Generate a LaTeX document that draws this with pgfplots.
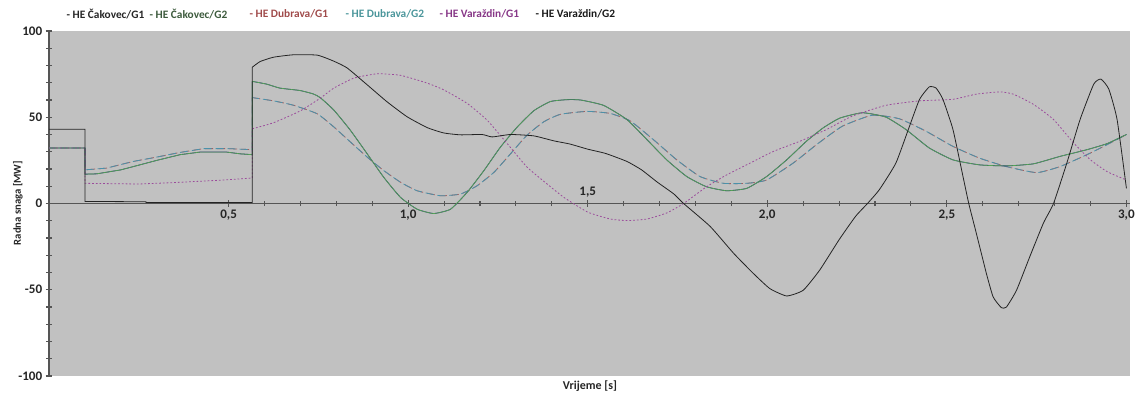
\documentclass[border=0pt]{standalone}
\usepackage{fontspec}
\setmainfont{Carlito}
\usepackage{pgfplots}
\pgfplotsset{compat=1.18}

\definecolor{bggray}{RGB}{193,193,193}
\definecolor{axgray}{RGB}{85,85,85}
\definecolor{cakA}{RGB}{45,55,115}
\definecolor{cakB}{RGB}{85,165,85}
\definecolor{dubA}{RGB}{165,95,95}
\definecolor{dubB}{RGB}{75,145,170}
\definecolor{varA}{RGB}{155,75,155}
\definecolor{varB}{RGB}{35,35,35}
\definecolor{txtB}{RGB}{60,90,60}
\definecolor{txtC}{RGB}{160,75,75}
\definecolor{txtD}{RGB}{75,150,155}
\definecolor{txtE}{RGB}{135,55,135}

% Varazdin/G2: step part, then the swing after 0.566 s
\pgfplotstableread{
t P
0 43
0.1 43
0.1 1.2
0.27 1.0
0.27 0.6
0.566 0.6
0.566 79
}\varBa
\pgfplotstableread{
t P
0.566 79
0.588 82.3
0.625 84.8
0.68 86.2
0.747 86
0.793 82.5
0.83 78.6
0.886 68.8
0.941 59
0.997 50.3
1.053 44
1.099 40.9
1.146 39.8
1.206 40
1.234 38.6
1.285 40
1.35 39.2
1.406 36.3
1.45 34.5
1.5 31.5
1.55 29
1.609 24.4
1.65 19.5
1.693 12.5
1.74 5.5
1.767 0
1.841 -13.3
1.906 -28.8
1.961 -40.5
2.007 -49.3
2.054 -53.6
2.1 -50.3
2.146 -38.6
2.2 -21
2.246 -7.4
2.279 0
2.312 8
2.358 23.4
2.396 44.8
2.424 60.4
2.451 67.6
2.47 66.9
2.489 60.4
2.517 42.9
2.545 15.6
2.561 0
2.582 -17.2
2.61 -40.5
2.629 -54.2
2.652 -60.4
2.666 -60
2.694 -50.3
2.731 -30.8
2.769 -11.3
2.797 0
2.834 23.4
2.871 48.7
2.909 69.2
2.929 72.1
2.951 66.3
2.974 48.7
3.0 8.8
}\varBb

% Cakovec G1/G2
\pgfplotstableread{
t P
0 32.2
0.1 32.2
0.1 17
0.133 17.2
0.2 19.5
0.253 22.4
0.3 25
0.365 28.3
0.42 29.8
0.495 29.8
0.532 28.8
0.566 28.3
0.566 70.8
}\caka
\pgfplotstableread{
t P
0.566 70.8
0.606 69.2
0.643 66.9
0.699 65.5
0.736 63.5
0.755 61.4
0.793 54.2
0.839 42.5
0.886 28.8
0.932 15.2
0.979 3.5
1.025 -3.3
1.071 -5.8
1.118 -3.3
1.164 6.4
1.211 19.1
1.257 32.7
1.304 44.4
1.35 53.8
1.396 59.1
1.443 60.2
1.48 60
1.544 56.9
1.609 48.7
1.665 37
1.72 25.3
1.776 15.6
1.831 9.7
1.887 7.4
1.943 8.8
1.998 15.6
2.054 25.3
2.109 36.1
2.156 43.9
2.202 49.5
2.265 52.6
2.33 50.1
2.386 42.9
2.451 32.2
2.517 25.3
2.591 22.4
2.666 21.8
2.741 23
2.815 27.3
2.89 31.2
2.946 34.7
3.0 40
}\cakb

% Dubrava G1/G2
\pgfplotstableread{
t P
0 32.2
0.1 32.2
0.1 19.5
0.16 20.5
0.235 24.4
0.3 26.9
0.365 29.6
0.43 31.8
0.5 31.8
0.566 31.2
0.566 61.4
}\duba
\pgfplotstableread{
t P
0.566 61.4
0.625 59.5
0.68 57
0.747 52
0.793 44.4
0.839 35.7
0.886 26.9
0.932 19.1
0.979 12.3
1.025 7.4
1.09 4.5
1.146 5.5
1.192 10.3
1.239 18.1
1.285 28.8
1.331 39.6
1.378 47.4
1.424 51.7
1.498 53.4
1.563 52.2
1.619 47.8
1.683 37
1.748 25.3
1.813 15.6
1.878 11.7
1.943 11.7
1.998 13.6
2.072 23.4
2.137 34.1
2.209 44.8
2.293 51.2
2.368 49.1
2.442 41.9
2.517 33.1
2.591 26.3
2.666 21.4
2.75 17.9
2.815 21.4
2.89 28.3
2.946 34.1
3.0 40
}\dubb

% Varazdin/G1
\pgfplotstableread{
t P
0 32.2
0.1 32.2
0.1 11.7
0.25 11.3
0.346 12.1
0.486 13.6
0.566 14.8
0.566 43.3
}\varAa
\pgfplotstableread{
t P
0.566 43.3
0.625 46.8
0.699 53.6
0.755 61
0.793 66.9
0.849 72.7
0.914 75.2
0.979 74.3
1.053 69.8
1.099 65.9
1.164 58.1
1.22 48.3
1.276 34.7
1.331 21.1
1.387 11.3
1.434 3.5
1.5 -5
1.563 -9
1.609 -9.9
1.665 -9
1.72 -5.5
1.767 0
1.831 9.7
1.887 16.6
1.952 23.4
2.017 30.2
2.091 36.1
2.165 42.9
2.237 50.7
2.33 56.9
2.424 59.5
2.517 60.4
2.582 63.4
2.647 64.7
2.685 63.4
2.741 57.5
2.797 48.7
2.853 35.1
2.9 25.3
2.946 18.5
3.0 13.6
}\varAb

\begin{document}
\begin{tikzpicture}
\useasboundingbox (-36.75pt,-15.75pt) rectangle (816.75pt,282pt);
\begin{axis}[
    at={(0pt,0pt)}, anchor=south west,
    scale only axis,
    width=810.75pt, height=258.75pt,
    xmin=0, xmax=3.01,
    ymin=-100, ymax=100,
    axis x line=middle, axis y line=left,
    axis line style={-},
    x axis line style={axgray, line width=1.4pt},
    y axis line style={axgray, line width=0.8pt},
    axis background/.style={fill=bggray},
    xtick={0.5,1,1.5,2,2.5,3},
    xticklabels={{0,5},{1,0},{},{2,0},{2,5},{3,0}},
    minor x tick num=4,
    ytick={-100,-50,0,50,100},
    yticklabels={-100,-50,0,50,100},
    minor y tick num=4,
    tick align=center,
    major tick length=5pt, minor tick length=4pt,
    tick style={axgray, line width=0.8pt},
    ticklabel style={font=\bfseries\fontsize{9.8}{11}\selectfont, text=black!85},
    xticklabel style={yshift=1pt},
    yticklabel style={xshift=1pt},
    line width=0.6pt,
    clip=false,
]
% Dubrava
\addplot[dubA, dash pattern=on 6pt off 3pt] table[x=t,y=P] {\duba};
\addplot[dubA, smooth, tension=0.3, dash pattern=on 6pt off 3pt] table[x=t,y=P] {\dubb};
\addplot[dubB, dash pattern=on 6pt off 3pt, dash phase=1pt] table[x=t,y=P] {\duba};
\addplot[dubB, smooth, tension=0.3, dash pattern=on 6pt off 3pt, dash phase=1pt] table[x=t,y=P] {\dubb};
% Cakovec
\addplot[cakA] table[x=t,y=P] {\caka};
\addplot[cakA, smooth, tension=0.3] table[x=t,y=P] {\cakb};
\addplot[cakB, line width=0.5pt] table[x=t,y=P] {\caka};
\addplot[cakB, smooth, tension=0.3, line width=0.5pt] table[x=t,y=P] {\cakb};
% Varazdin
\addplot[varA, dash pattern=on 1.3pt off 1.5pt] table[x=t,y=P] {\varAa};
\addplot[varA, smooth, tension=0.3, dash pattern=on 1.3pt off 1.5pt] table[x=t,y=P] {\varAb};
\addplot[varB] table[x=t,y=P] {\varBa};
\addplot[varB, smooth, tension=0.3] table[x=t,y=P] {\varBb};
\node[anchor=south, font=\bfseries\fontsize{9.8}{11}\selectfont, text=black!85, yshift=1pt] at (axis cs:1.5,0) {1,5};
\end{axis}
\begin{scope}[font=\bfseries\fontsize{8.5}{10}\selectfont]
\node[anchor=west, text=black!85] at (9.75pt,271.5pt) {- HE Čakovec/G1};
\node[anchor=west, text=txtB] at (72pt,271.5pt) {- HE Čakovec/G2};
\node[anchor=west, text=txtC] at (147pt,271.5pt) {- HE Dubrava/G1};
\node[anchor=west, text=txtD] at (219pt,271.5pt) {- HE Dubrava/G2};
\node[anchor=west, text=txtE] at (289.5pt,271.5pt) {- HE Varaždin/G1};
\node[anchor=west, text=black!90] at (361.5pt,271.5pt) {- HE Varaždin/G2};
\end{scope}
\node[rotate=90, font=\bfseries\fontsize{8}{10}\selectfont, text=black!85] at (-23.25pt,129.75pt) {Radna snaga [MW]};
\node[font=\bfseries\fontsize{9}{11}\selectfont, text=black!85] at (405.75pt,-7.5pt) {Vrijeme [s]};
\end{tikzpicture}
\end{document}
